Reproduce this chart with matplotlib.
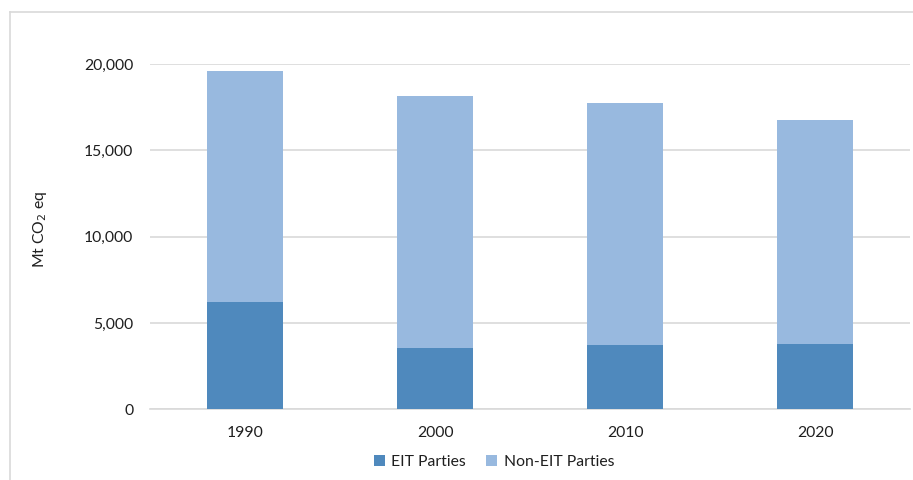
import matplotlib
matplotlib.use("Agg")
import matplotlib.pyplot as plt
from matplotlib.lines import Line2D
from matplotlib.ticker import FuncFormatter
import numpy as np

# Emissions by party group (Mt CO2 eq)
years = ["1990", "2000", "2010", "2020"]
eit = [6200, 3550, 3720, 3780]
total = [19600, 18160, 17750, 16730]
non_eit = [t - e for t, e in zip(total, eit)]

c_eit = "#4F89BD"
c_non = "#98B9DF"
grid_c = "#D9D9D9"
text_c = "#1F1F1F"

plt.rcParams["font.family"] = ["Lato", "DejaVu Sans"]

fig = plt.figure(figsize=(9.13, 4.80), dpi=100)
ax = fig.add_axes([150 / 913, 1 - 409.3 / 480, 760 / 913, 345.3 / 480])

x = np.arange(len(years))
w = 0.4
ax.bar(x, eit, w, color=c_eit, label="EIT Parties", zorder=3)
ax.bar(x, non_eit, w, bottom=eit, color=c_non, label="Non-EIT Parties", zorder=3)

ax.set_xlim(-0.5, len(years) - 0.5)
ax.set_ylim(0, 20000)
ax.set_yticks(np.arange(0, 20001, 5000))
ax.yaxis.set_major_formatter(FuncFormatter(lambda v, p: f"{int(v):,}"))
ax.set_xticks(x)
ax.set_xticklabels(years)
ax.grid(axis="y", color=grid_c, linewidth=1.2, zorder=0)
for s in ["top", "right", "left"]:
    ax.spines[s].set_visible(False)
ax.spines["bottom"].set_color(grid_c)
ax.spines["bottom"].set_linewidth(1.2)
ax.tick_params(axis="both", length=0, labelsize=11.3, colors=text_c)
ax.tick_params(axis="y", pad=12)
ax.tick_params(axis="x", pad=12)

fig.text(40 / 913, 1 - 229 / 480, "Mt CO$_2$ eq", rotation=90, ha="center",
         va="center", fontsize=11.3, color=text_c)

ax.legend(loc="center", bbox_to_anchor=(494 / 913, 1 - 462 / 480),
          bbox_transform=fig.transFigure, ncol=2, frameon=False, fontsize=11.3,
          handlelength=0.7, handleheight=0.7, handletextpad=0.4,
          columnspacing=1.3, labelcolor=text_c)

# Chart area frame (top and left edges)
fig.add_artist(Line2D([9.5 / 913, 1], [1 - 12 / 480, 1 - 12 / 480],
                      transform=fig.transFigure, color=grid_c, linewidth=1.2))
fig.add_artist(Line2D([9.5 / 913, 9.5 / 913], [0, 1 - 12 / 480],
                      transform=fig.transFigure, color=grid_c, linewidth=1.2))

fig.savefig("out.png", dpi=100, facecolor="white")
